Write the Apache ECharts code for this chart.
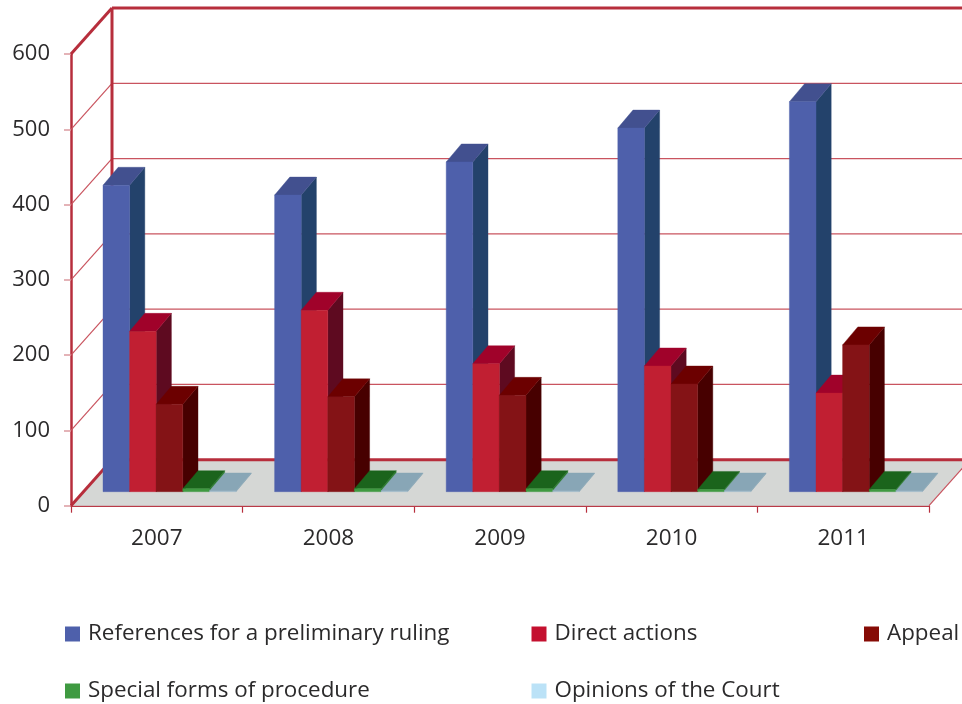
<!DOCTYPE html>
<html><head><meta charset="utf-8">
<style>html,body{margin:0;padding:0;background:#fff;overflow:hidden}#c{width:962px;height:704px}</style>
<script src="https://cdn.jsdelivr.net/npm/echarts@6/dist/echarts.min.js"></script>
</head><body><div id="c"></div>
<script>
const years = ['2007','2008','2009','2010','2011'];
const references = [407, 394, 438, 483, 518];
const directActions = [213, 241, 170, 167, 131];
const appeals = [116, 126, 128, 143, 195];
const specialForms = [4, 4, 4, 3, 3];
const opinions = [1, 1, 1, 1, 1];
const valueTicks = [0, 100, 200, 300, 400, 500, 600];
const names = ['References for a preliminary ruling','Direct actions','Appeal','Special forms of procedure','Opinions of the Court'];

const FONT = '"Open Sans"';
const TEXT = '#2b2a2b', WALL = '#b72e3c', WALL_SOFT = '#c9545f', FLOOR = '#d5d7d5';
const BACK = [41, -46];          // depth of the chart box in screen pixels
const BAR_W = 26.6, BAR_DX = 15.2, BAR_DY = -18, BASE_DX = 12.7, BASE_DY = -14;

const shades = [
  {front:'#4e60ab', top:'#42508f', side:'#23426b'},
  {front:'#c11f32', top:'#a0022a', side:'#5e0a20'},
  {front:'#841316', top:'#6c0000', side:'#470000'},
  {front:'#3f9a41', top:'#1b641c', side:'#2c7d30'},
  {front:'#a3bccb', top:'#88a6b6', side:'#88a6b6'}
];
const legendColors = ['#4e60ab','#c4102f','#860b05','#3f9a41','#bbe2f7'];
const seriesValues = [references, directActions, appeals, specialForms, opinions];

function poly(points, fill) {
  return {type:'polygon', shape:{points}, style:{fill, stroke:fill, lineWidth:0.4}, silent:true};
}
function line(a, b, width, color) {
  return {type:'line', shape:{x1:a[0],y1:a[1],x2:b[0],y2:b[1]}, style:{stroke:color, lineWidth:width}, silent:true};
}
function renderBar(k) {
  return function (params, api) {
    const c = api.coord([api.value(0), api.value(1)]);
    const base = api.coord([api.value(0), 0]);
    const s = shades[k];
    const x0 = c[0] + BASE_DX + (k - 2.5) * BAR_W, x1 = x0 + BAR_W;
    const yB = base[1] + BASE_DY, yT = c[1] + BASE_DY;
    return {type:'group', children:[
      poly([[x1,yB],[x1+BAR_DX,yB+BAR_DY],[x1+BAR_DX,yT+BAR_DY],[x1,yT]], s.side),
      poly([[x0,yT],[x1,yT],[x1+BAR_DX,yT+BAR_DY],[x0+BAR_DX,yT+BAR_DY]], s.top),
      poly([[x0,yB],[x1,yB],[x1,yT],[x0,yT]], s.front)
    ]};
  };
}
function renderFrame(params, api) {
  const b = api.size([1, 0])[0];
  const f0 = api.coord([0, 0]);
  const left = f0[0] - b / 2, right = left + b * years.length;
  const kids = [];
  const y = v => api.coord([0, v])[1];
  kids.push(poly([[left,y(0)],[right,y(0)],[right+BACK[0],y(0)+BACK[1]],[left+BACK[0],y(0)+BACK[1]]], FLOOR));
  valueTicks.forEach(v => {
    if (v === 0) return;
    const top = v === 600;
    kids.push(line([left,y(v)],[left+BACK[0],y(v)+BACK[1]], top ? 3 : 1.2, top ? WALL : WALL_SOFT));
    kids.push(line([left+BACK[0],y(v)+BACK[1]],[right+BACK[0],y(v)+BACK[1]], top ? 3 : 1.3, top ? WALL : WALL_SOFT));
  });
  kids.push(line([left,y(0)],[left+BACK[0],y(0)+BACK[1]], 3, WALL));
  kids.push(line([left+BACK[0],y(0)+BACK[1]],[right+BACK[0],y(0)+BACK[1]], 3, WALL));
  kids.push(line([left+BACK[0],y(0)+BACK[1]],[left+BACK[0],y(600)+BACK[1]], 3, WALL));
  kids.push(line([right,y(0)],[right+BACK[0],y(0)+BACK[1]], 1.2, WALL_SOFT));
  return {type:'group', children:kids};
}

const legendSpots = [[65,623],[531.5,623],[864,623],[65,680],[531.5,680]];
const option = {
  animation:false,
  backgroundColor:'#fff',
  textStyle:{fontFamily:FONT},
  grid:{left:71, top:54, width:858, height:451.7, containLabel:false},
  xAxis:{type:'category', data:years, boundaryGap:true,
    axisLine:{lineStyle:{color:WALL,width:2}},
    axisTick:{show:true,length:7,alignWithLabel:false,lineStyle:{color:WALL,width:1.2}},
    axisLabel:{color:TEXT,fontFamily:FONT,fontSize:22.5,margin:21,interval:0},
    splitLine:{show:false}},
  yAxis:{type:'value', min:0, max:600, interval:100,
    axisLine:{show:true,lineStyle:{color:WALL,width:2.5}},
    axisTick:{show:true,length:7,lineStyle:{color:'#dc9aa0',width:1.5}},
    axisLabel:{color:TEXT,fontFamily:FONT,fontSize:22,margin:21,padding:[4,0,0,0],verticalAlignMaxLabel:'middle',verticalAlignMinLabel:'middle'},
    splitLine:{show:false}},
  legend:names.map((n,i)=>({
    data:[n], left:legendSpots[i][0], top:legendSpots[i][1], icon:'rect', padding:0,
    itemWidth:15, itemHeight:15, selectedMode:false,
    textStyle:{color:TEXT,fontFamily:FONT,fontSize:22.4,padding:[3,0,0,3]}
  })),
  series:[
    {type:'custom', name:'frame', data:[[0,0]], renderItem:renderFrame, coordinateSystem:'cartesian2d', clip:false, silent:true, z:1, encode:{x:0,y:1}},
    ...names.map((n,k)=>({
      type:'custom', name:n, coordinateSystem:'cartesian2d', clip:false, silent:true, z:2+k,
      itemStyle:{color:legendColors[k]},
      renderItem:renderBar(k),
      data:years.map((yr,i)=>[i, seriesValues[k][i]]),
      encode:{x:0,y:1}
    }))
  ]
};
const chart = echarts.init(document.getElementById('c'), null, {renderer:'canvas', width:962, height:704});
chart.setOption(option);
</script></body></html>
